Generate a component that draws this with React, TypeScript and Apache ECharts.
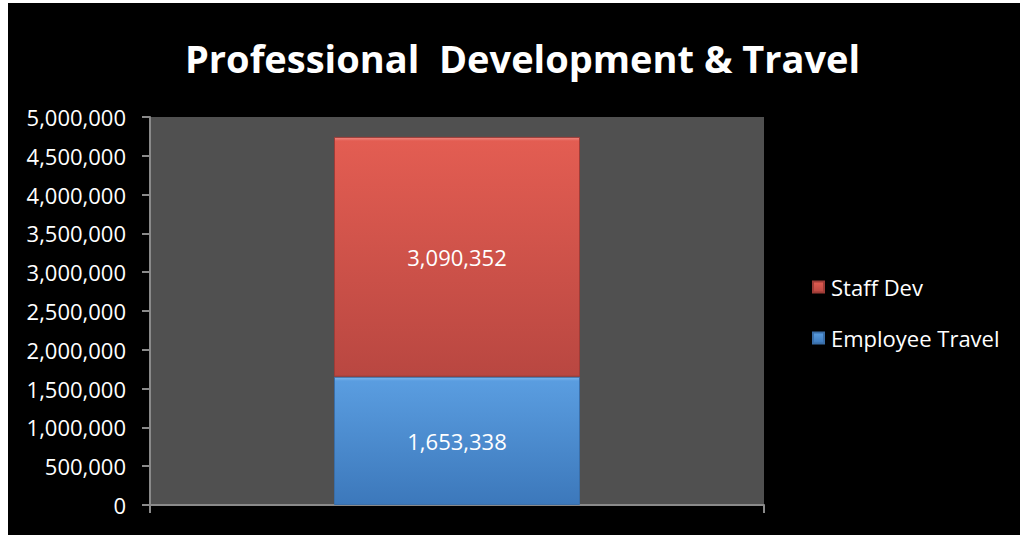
import React, { useEffect, useRef } from "react";
import * as echarts from "echarts";

const categories = [""];
const seriesNames = ["Employee Travel", "Staff Dev"];
const employeeTravel = [1653338];
const staffDev = [3090352];
const yTicks = { min: 0, max: 5000000, interval: 500000 };

const FONT = "'Open Sans', Lato, sans-serif";

export default function App() {
  const ref = useRef<HTMLDivElement>(null);
  useEffect(() => {
    const chart = echarts.init(ref.current!, null, { renderer: "svg" });
    const fmt = (v: number) => v.toLocaleString("en-US");
    chart.setOption({
      animation: false,
      backgroundColor: "#000000",
      title: {
        text: "Professional  Development & Travel",
        left: 172,
        top: 31,
        padding: 5,
        textStyle: { color: "#ffffff", fontSize: 38, fontWeight: "bold", fontFamily: FONT },
      },
      legend: {
        orient: "vertical",
        left: 799,
        top: 268,
        itemGap: 29,
        itemWidth: 11,
        itemHeight: 11,
        icon: "rect",
        data: [seriesNames[1], seriesNames[0]],
        textStyle: { color: "#ffffff", fontSize: 22, fontFamily: FONT, padding: [0, 0, 0, 2] },
      },
      grid: {
        left: 142,
        top: 114,
        right: 256,
        bottom: 30,
        show: true,
        backgroundColor: "#505050",
        borderWidth: 0,
        containLabel: false,
      },
      xAxis: {
        type: "category",
        data: categories,
        axisLine: { lineStyle: { color: "#8a8a8a", width: 2 } },
        axisTick: { show: true, length: 8, lineStyle: { color: "#8a8a8a", width: 2 } },
        axisLabel: { show: false },
      },
      yAxis: {
        type: "value",
        min: yTicks.min,
        max: yTicks.max,
        interval: yTicks.interval,
        splitLine: { show: false },
        axisLine: { show: true, lineStyle: { color: "#8a8a8a", width: 2 } },
        axisTick: { show: true, length: 8, lineStyle: { color: "#8a8a8a", width: 2 } },
        axisLabel: {
          color: "#ffffff",
          fontSize: 22,
          fontFamily: FONT,
          margin: 24,
          formatter: (v: number) => fmt(v),
        },
      },
      series: [
        {
          name: seriesNames[0],
          type: "bar",
          stack: "total",
          barWidth: 246,
          data: employeeTravel,
          itemStyle: {
            color: new echarts.graphic.LinearGradient(0, 0, 0, 1, [
              { offset: 0, color: "#7fb8ee" },
              { offset: 0.03, color: "#5a9de0" },
              { offset: 1, color: "#3c78bb" },
            ]),
            borderColor: "#3a6ea8",
            borderWidth: 1,
          },
          label: {
            show: true,
            position: "inside",
            color: "#ffffff",
            fontSize: 22,
            fontFamily: FONT,
            formatter: (p: any) => fmt(p.value),
          },
        },
        {
          name: seriesNames[1],
          type: "bar",
          stack: "total",
          barWidth: 246,
          data: staffDev,
          itemStyle: {
            color: new echarts.graphic.LinearGradient(0, 0, 0, 1, [
              { offset: 0, color: "#f08a82" },
              { offset: 0.015, color: "#e35d52" },
              { offset: 1, color: "#b94741" },
            ]),
            borderColor: "#9e3c37",
            borderWidth: 1,
          },
          label: {
            show: true,
            position: "inside",
            color: "#ffffff",
            fontSize: 22,
            fontFamily: FONT,
            formatter: (p: any) => fmt(p.value),
          },
        },
      ],
    });
    return () => chart.dispose();
  }, []);
  return (
    <div
      ref={ref}
      style={{ position: "absolute", left: 8, top: 3, width: 1012, height: 532 }}
    />
  );
}
